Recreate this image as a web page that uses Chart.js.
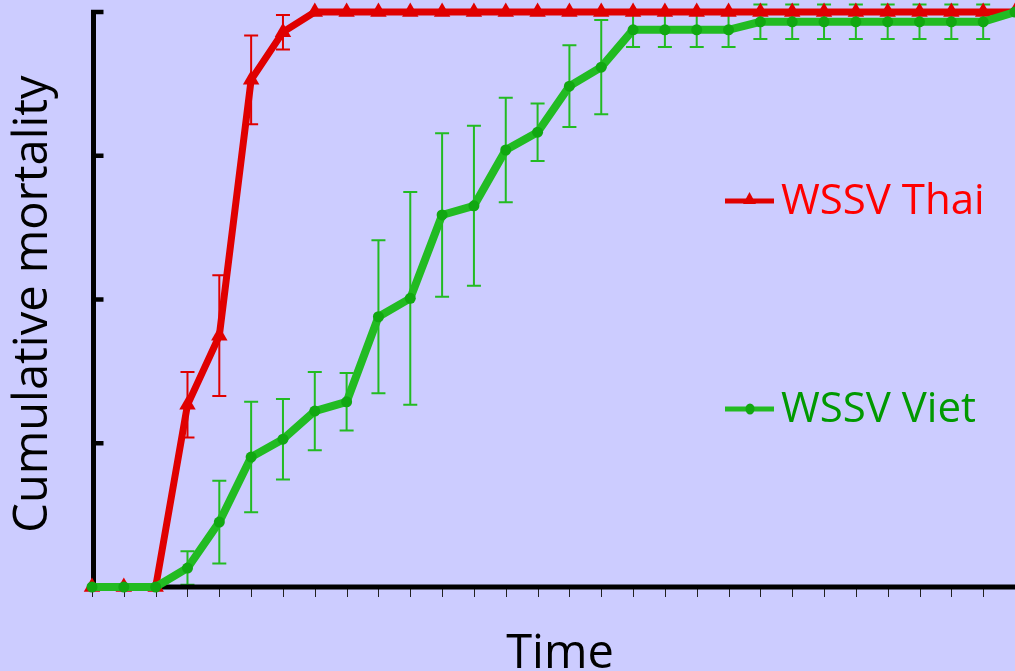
<!DOCTYPE html>
<html>
<head>
<meta charset="utf-8">
<title>Cumulative mortality – WSSV Thai vs WSSV Viet</title>
<script src="https://cdn.jsdelivr.net/npm/chart.js@4/dist/chart.umd.min.js"></script>
<style>
  html, body { margin: 0; padding: 0; background: #CCCCFF; }
  #wrap { width: 1015px; height: 671px; position: relative; }
</style>
</head>
<body>
<div id="wrap"><canvas id="chart" width="1015" height="671"></canvas></div>
<script>
// Sampling points along the time axis (unlabelled)
const timeSteps = [0, 1, 2, 3, 4, 5, 6, 7, 8, 9, 10, 11, 12, 13, 14, 15, 16, 17, 18, 19, 20, 21, 22, 23, 24, 25, 26, 27, 28, 29];

// Cumulative mortality (%) and error-bar half-widths
const thaiMortality = [0, 0, 0, 31.7, 43.7, 88.2, 96.5, 100, 100, 100, 100, 100, 100, 100, 100, 100, 100, 100, 100, 100, 100, 100, 100, 100, 100, 100, 100, 100, 100, 100];
const thaiError     = [0, 0, 0, 5.7, 10.5, 7.7, 3.0, 0, 0, 0, 0, 0, 0, 0, 0, 0, 0, 0, 0, 0, 0, 0, 0, 0, 0, 0, 0, 0, 0, 0];

const vietMortality = [0, 0, 0, 3.3, 11.3, 22.6, 25.7, 30.6, 32.2, 47.0, 50.2, 64.7, 66.3, 76.0, 79.1, 87.1, 90.4, 96.9, 96.9, 96.9, 96.9, 98.3, 98.3, 98.3, 98.3, 98.3, 98.3, 98.3, 98.3, 100];
const vietError     = [0, 0, 0, 2.9, 7.2, 9.6, 7.0, 6.8, 5.0, 13.3, 18.5, 14.2, 13.9, 9.1, 5.0, 7.1, 8.2, 3.0, 3.0, 3.0, 3.0, 3.0, 3.0, 3.0, 3.0, 3.0, 3.0, 3.0, 3.0, 0];

// Y-axis tick positions (no labels are shown)
const yTicks = [0, 25, 50, 75, 100];

const seriesNames = ['WSSV Viet', 'WSSV Thai'];

const BG = '#CCCCFF';
const RED = '#E00000';
const RED_TEXT = '#FF0000';
const GREEN = '#22BB22';
const GREEN_POINT = '#11A811';
const GREEN_TEXT = '#009900';
const FONT = '"Open Sans", "DejaVu Sans", sans-serif';

const errorSets = [vietError, thaiError];
const errorColors = [GREEN, RED];

// Page background
const backgroundPlugin = {
  id: 'background',
  beforeDraw(chart) {
    const ctx = chart.ctx;
    ctx.save();
    ctx.fillStyle = BG;
    ctx.fillRect(0, 0, chart.width, chart.height);
    ctx.restore();
  }
};

// Axes, tick marks and error bars, drawn beneath the lines
const axesAndErrorsPlugin = {
  id: 'axesAndErrors',
  beforeDatasetsDraw(chart) {
    const ctx = chart.ctx;
    const xs = chart.scales.x;
    const ys = chart.scales.y;
    const area = chart.chartArea;
    ctx.save();

    // error bars (Viet first, then Thai)
    for (let d = errorSets.length - 1; d >= 0; d--) {
      const vals = chart.data.datasets[d].data;
      const errs = errorSets[d];
      ctx.strokeStyle = errorColors[d];
      ctx.lineWidth = 2;
      for (let i = 0; i < vals.length; i++) {
        if (!errs[i]) continue;
        const x = xs.getPixelForValue(i);
        const yTop = ys.getPixelForValue(vals[i] + errs[i]);
        const yBot = ys.getPixelForValue(vals[i] - errs[i]);
        ctx.beginPath();
        ctx.moveTo(x, yTop); ctx.lineTo(x, yBot);
        ctx.moveTo(x - 7, yTop); ctx.lineTo(x + 7, yTop);
        ctx.moveTo(x - 7, yBot); ctx.lineTo(x + 7, yBot);
        ctx.stroke();
      }
    }

    // x tick marks below the axis
    ctx.strokeStyle = '#222222';
    ctx.lineWidth = 1;
    for (let i = 0; i < timeSteps.length; i++) {
      const x = Math.round(xs.getPixelForValue(i)) + 0.5;
      ctx.beginPath();
      ctx.moveTo(x, area.bottom + 2);
      ctx.lineTo(x, area.bottom + 10);
      ctx.stroke();
    }

    // axis lines
    ctx.strokeStyle = '#000000';
    ctx.lineWidth = 5;
    ctx.lineCap = 'butt';
    const axisX = area.left + 1.5;
    ctx.beginPath();
    ctx.moveTo(axisX, area.top - 1.5);
    ctx.lineTo(axisX, area.bottom + 2.5);
    ctx.stroke();
    ctx.beginPath();
    ctx.moveTo(axisX - 2.5, area.bottom);
    ctx.lineTo(area.right, area.bottom);
    ctx.stroke();

    // y tick marks pointing inward
    ctx.lineWidth = 4.5;
    yTicks.forEach(v => {
      const y = ys.getPixelForValue(v);
      ctx.beginPath();
      ctx.moveTo(axisX - 2.5, y);
      ctx.lineTo(axisX + 10, y);
      ctx.stroke();
    });

    ctx.restore();
  }
};

// Axis titles and the in-plot legend
const textPlugin = {
  id: 'texts',
  afterDatasetsDraw(chart) {
    const ctx = chart.ctx;
    ctx.save();

    // x-axis title
    ctx.fillStyle = '#000000';
    ctx.font = '47px ' + FONT;
    ctx.textAlign = 'center';
    ctx.textBaseline = 'alphabetic';
    ctx.fillText('Time', 560, 668);

    // y-axis title
    ctx.save();
    ctx.translate(47, 304);
    ctx.rotate(-Math.PI / 2);
    ctx.fillText('Cumulative mortality', 0, 0);
    ctx.restore();

    // legend entries
    const entries = [
      { name: seriesNames[1], color: RED, text: RED_TEXT, y: 201, style: 'triangle' },
      { name: seriesNames[0], color: GREEN, text: GREEN_TEXT, y: 409, style: 'circle' }
    ];
    entries.forEach(e => {
      ctx.strokeStyle = e.color;
      ctx.lineWidth = 5;
      ctx.beginPath();
      ctx.moveTo(725, e.y);
      ctx.lineTo(774, e.y);
      ctx.stroke();
      if (e.style === 'triangle') {
        ctx.fillStyle = e.color;
        ctx.beginPath();
        ctx.moveTo(749.5, e.y - 9);
        ctx.lineTo(756, e.y + 3);
        ctx.lineTo(743, e.y + 3);
        ctx.closePath();
        ctx.fill();
      } else {
        ctx.fillStyle = GREEN_POINT;
        ctx.beginPath();
        ctx.ellipse(750, e.y, 4.5, 5.5, 0, 0, Math.PI * 2);
        ctx.fill();
      }
      ctx.fillStyle = e.text;
      ctx.font = '42px ' + FONT;
      ctx.textAlign = 'left';
      ctx.fillText(e.name, 781, e.y + 13);
    });

    ctx.restore();
  }
};

new Chart(document.getElementById('chart'), {
  type: 'line',
  data: {
    labels: timeSteps,
    datasets: [
      {
        label: seriesNames[0],
        data: vietMortality,
        borderColor: GREEN,
        borderWidth: 8,
        backgroundColor: GREEN_POINT,
        pointBackgroundColor: GREEN_POINT,
        pointBorderColor: GREEN_POINT,
        pointBorderWidth: 0,
        pointStyle: 'circle',
        pointRadius: 5.5,
        tension: 0,
        fill: false,
        clip: false
      },
      {
        label: seriesNames[1],
        data: thaiMortality,
        borderColor: RED,
        borderWidth: 7,
        backgroundColor: RED,
        pointBackgroundColor: RED,
        pointBorderColor: RED,
        pointBorderWidth: 0,
        pointStyle: 'triangle',
        pointRadius: 9.5,
        tension: 0,
        fill: false,
        clip: false
      }
    ]
  },
  options: {
    responsive: false,
    animation: false,
    devicePixelRatio: 1,
    layout: { autoPadding: false, padding: { left: 92, top: 12, right: 0, bottom: 84 } },
    scales: {
      x: { type: 'category', display: false, offset: false },
      y: { type: 'linear', display: false, min: 0, max: 100 }
    },
    plugins: {
      legend: { display: false },
      tooltip: { enabled: false },
      title: { display: false }
    },
    events: []
  },
  plugins: [backgroundPlugin, axesAndErrorsPlugin, textPlugin]
});
</script>
</body>
</html>
